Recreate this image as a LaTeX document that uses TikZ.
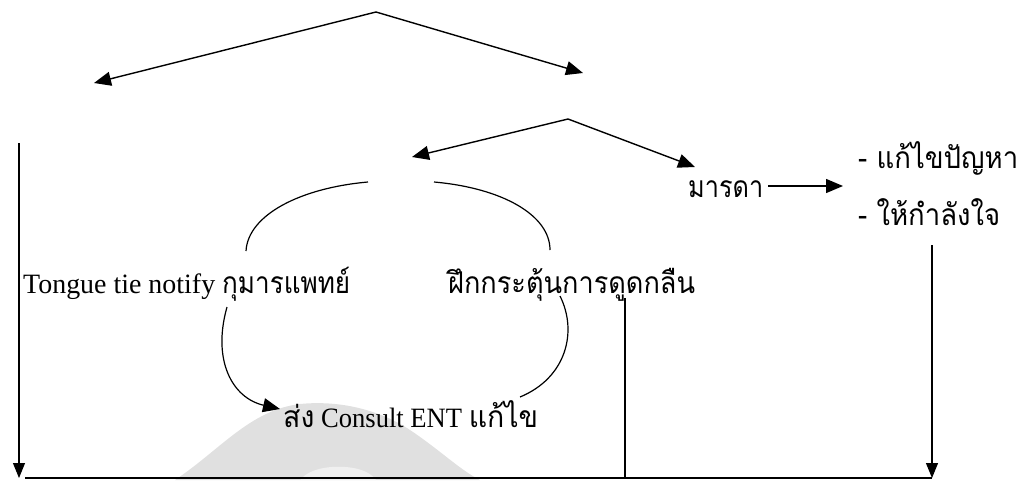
\documentclass[tikz,border=0pt]{standalone}
\usepackage{fontspec}
\usepackage{graphicx}
\setmainfont{Liberation Serif}
\newfontfamily\thaifont[Script=Thai]{Loma}
\usetikzlibrary{arrows.meta,calc}
\newcommand{\fitw}[2]{\resizebox{#1pt}{\height}{#2}}
\newcommand{\tht}[1]{{\thaifont\fontsize{30}{34}\selectfont #1}}
\begin{document}
\begin{tikzpicture}[x=1pt,y=-1pt,
  txt/.style={inner sep=0pt, anchor=base west, font=\fontsize{28}{34}\selectfont},
  arr/.style={line width=1.4pt, -{Triangle[length=17pt,width=14pt]}},
  varr/.style={line width=1.1pt, -{Triangle[length=15pt,width=12pt]}},
  curve/.style={line width=1.2pt},
  curvearr/.style={line width=1.2pt, -{Triangle[length=17pt,width=14pt]}},
  wm/.style={fill=black!12, draw=none}]
\useasboundingbox (0,0) rectangle (1035,480);
% faint watermark
\fill[wm] (175,480) .. controls (220,450) and (250,410) .. (300,404)
  .. controls (340,400) and (380,410) .. (410,430)
  .. controls (440,450) and (460,470) .. (480,480) -- cycle;
\fill[black!6] (300,480) .. controls (310,468) and (330,466) .. (345,467)
  .. controls (362,468) and (372,474) .. (376,480) -- cycle;
% text nodes
\node[txt] (tongue) at (23,293) {\fitw{192}{Tongue tie notify}\hspace{7pt}\fitw{128}{\tht{กุมารแพทย์}}};
\node[txt] (train) at (448,293) {\fitw{247}{\tht{ฝึกกระตุ้นการดูดกลืน}}};
\node[txt] (ent) at (283,427) {\fitw{255}{\tht{ส่ง} Consult ENT \tht{แก้ไข}}};
\node[txt] (mom) at (688,197) {\fitw{75}{\tht{มารดา}}};
\node[txt] (fix) at (858,168) {\fitw{160}{\tht{- แก้ไขปัญหา}}};
\node[txt] (cheer) at (858,225) {\fitw{142}{\tht{- ให้กำลังใจ}}};
% coordinates
\coordinate (top) at (376,12);
\coordinate (tl) at (94,83);
\coordinate (tr) at (583,73);
\coordinate (mid) at (568,119);
\coordinate (ml) at (412,157);
\coordinate (mr) at (695,167);
\coordinate (momR) at (768,186);
\coordinate (fixL) at (843,186);
\coordinate (lefttop) at (19,143);
\coordinate (leftbot) at (19,478);
\coordinate (botL) at (25,478);
\coordinate (botR) at (932,478);
\coordinate (rtop) at (932,245);
\coordinate (vtop) at (625,298);
\coordinate (vbot) at (625,478);
% top arrows
\draw[arr] (top) -- (tl);
\draw[arr] (top) -- (tr);
\draw[arr] (mid) -- (ml);
\draw[arr] (mid) -- (mr);
\draw[arr] (momR) -- (fixL);
% arcs
\draw[curve] (368,182) .. controls (300,188) and (248,215) .. (246,251);
\draw[curve] (434,182) .. controls (502,188) and (550,215) .. (550,250);
\draw[curvearr] (227,307) .. controls (212,360) and (232,398) .. (280,409);
\draw[curve] (560,296) .. controls (578,332) and (566,378) .. (520,397);
% verticals and bottom line
\draw[varr] (lefttop) -- (leftbot);
\draw[varr] (rtop) -- (botR);
\draw[line width=1.1pt] (vtop) -- (vbot);
\draw[line width=1.6pt] (botL) -- (botR);
\end{tikzpicture}
\end{document}
